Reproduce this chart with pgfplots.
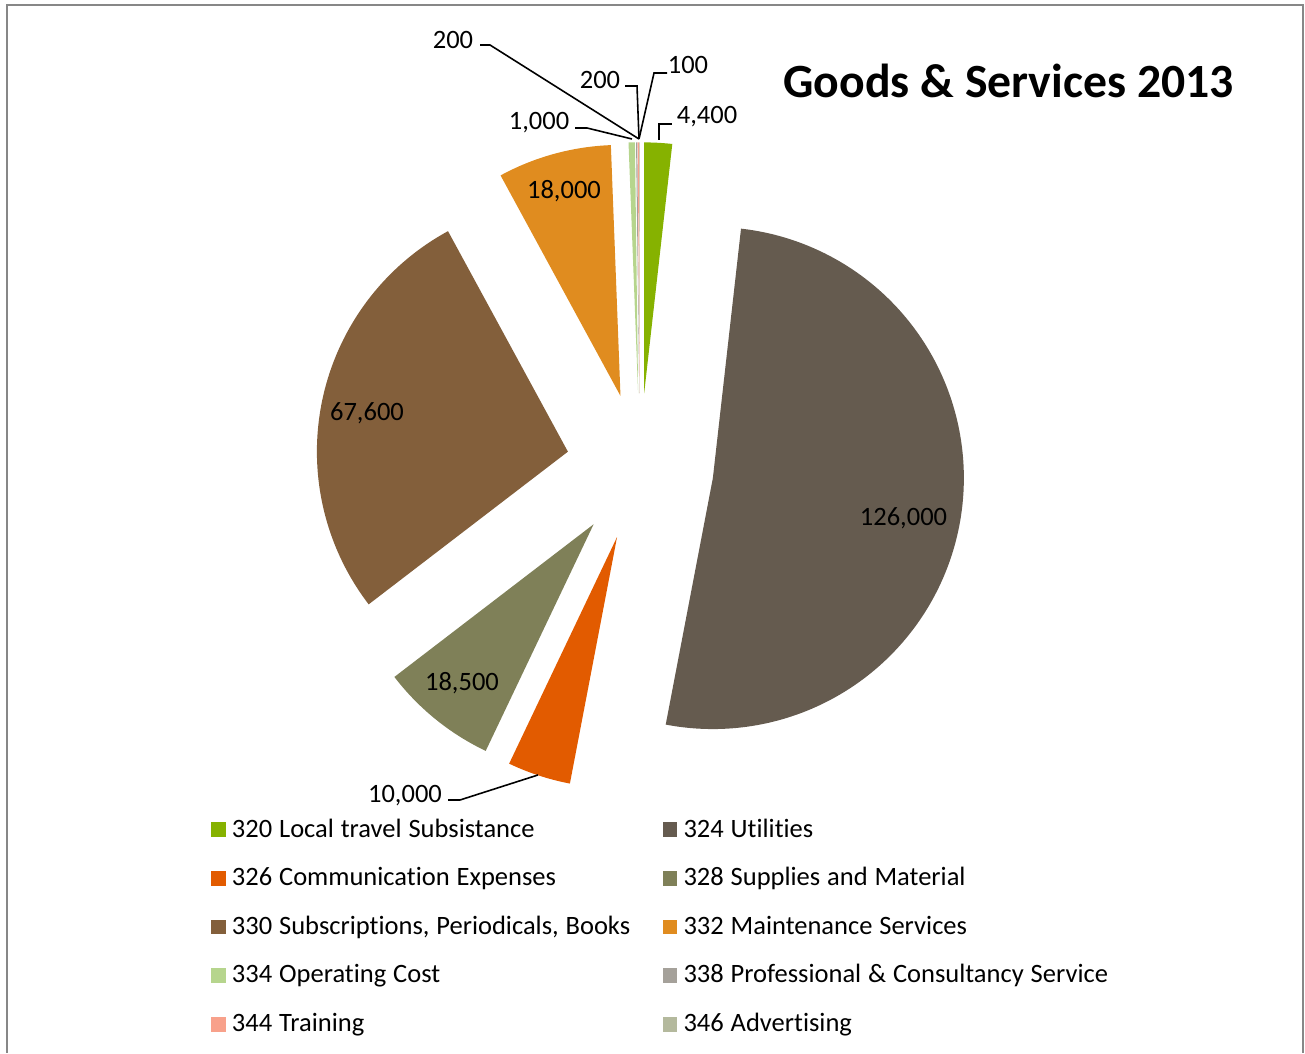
\documentclass[border=0pt]{standalone}
\usepackage{fontspec}
\setmainfont{Carlito}[Ligatures={NoCommon}]
\newfontfamily\legendfont{Carlito}[Ligatures={NoCommon}, WordSpace=1.15]
\usepackage{pgfplots}
\pgfplotsset{compat=1.18}
\usepackage{pgfplotstable}

\definecolor{sc0}{HTML}{86B200}
\definecolor{sc1}{HTML}{655B4F}
\definecolor{sc2}{HTML}{E25B00}
\definecolor{sc3}{HTML}{7F8058}
\definecolor{sc4}{HTML}{835F3B}
\definecolor{sc5}{HTML}{E08C1F}
\definecolor{sc6}{HTML}{B6D58D}
\definecolor{sc7}{HTML}{A5A19A}
\definecolor{sc8}{HTML}{F8A18B}
\definecolor{sc9}{HTML}{B4B99D}
\definecolor{framegray}{HTML}{878787}

\pgfplotstableread{
code value
320 4400
324 126000
326 10000
328 18500
330 67600
332 18000
334 1000
338 200
344 200
346 100
}\datatable

% geometry in pixel units of the reference (y up)
\def\CX{640}\def\CY{586}\def\R{251}\def\D{73.7}

\newcount\arcstep
\newcommand\buildslice[2]{%
  \edef\midang{\fpeval{(#1+#2)/2}}%
  \edef\ox{\fpeval{\CX+\D*sind(\midang)}}%
  \edef\oy{\fpeval{\CY+\D*cosd(\midang)}}%
  \edef\nseg{\fpeval{max(2,ceil(#2-#1))}}%
  \edef\slicecoords{(\ox,\oy)}%
  \arcstep=0
  \loop
    \edef\tang{\fpeval{#1+(#2-#1)*\the\arcstep/\nseg}}%
    \edef\slicecoords{\slicecoords (\fpeval{\ox+\R*sind(\tang)},\fpeval{\oy+\R*cosd(\tang)})}%
  \ifnum\arcstep<\nseg\relax \advance\arcstep by 1 \repeat
}

\begin{document}
\pgfplotstablegetrowsof{\datatable}%
\edef\nrows{\pgfplotsretval}%
\edef\lastrow{\the\numexpr\nrows-1\relax}%
\def\total{0}%
\pgfplotsforeachungrouped \i in {0,...,\lastrow}{%
  \pgfplotstablegetelem{\i}{value}\of\datatable
  \edef\total{\fpeval{\total+\pgfplotsretval}}}%
\begin{tikzpicture}
\begin{axis}[
  width=492.46pt, height=397.36pt, scale only axis,
  xmin=0, xmax=1305, ymin=0, ymax=1053,
  hide axis, clip=false,
  legend columns=2,
  legend image code/.code={\fill[#1] (0pt,0pt) rectangle (5.5pt,5.5pt);},
  legend style={at={(0.1617,0.2227)}, anchor=north west, draw=none, fill=none,
    inner sep=0pt, outer sep=0pt,
    font=\legendfont\fontsize{10}{12}\selectfont,
    row sep=9.35pt,
    cells={anchor=base west},
    nodes={inner sep=0pt, text height=7pt, text depth=2pt,
           font=\legendfont\fontsize{10}{12}\selectfont},
    /tikz/every odd column/.append style={column sep=2.4pt},
    /tikz/every even column/.append style={column sep=12.2pt}},
]
\path (axis cs:0,0) rectangle (axis cs:1305,1053);
\def\cum{0}%
\pgfplotsforeachungrouped \i in {0,...,\lastrow}{%
  \pgfplotstablegetelem{\i}{value}\of\datatable
  \edef\startang{\cum}%
  \edef\cum{\fpeval{\cum+\pgfplotsretval*360/\total}}%
  \buildslice{\startang}{\cum}%
  \edef\doplot{\noexpand\addplot[fill=sc\i, draw=none] coordinates {\slicecoords};}%
  \doplot
}
\legend{{320 Local travel Subsistance},{324 Utilities},{326 Communication Expenses},{328 Supplies and Material},{330 Subscriptions, Periodicals, Books},{332 Maintenance Services},{334 Operating Cost},{338 Professional \& Consultancy Service},{344 Training},{346 Advertising}}

% frame
\draw[framegray, line width=0.75pt] (axis cs:7,0) -- (axis cs:7,1048) -- (axis cs:1302.5,1048) -- (axis cs:1302.5,0);

% title
\node[anchor=base west, inner sep=0pt, font=\fontsize{18}{22}\selectfont\bfseries] at (axis cs:783,955) {Goods \& Services 2013};

% data labels
\begin{scope}[every node/.style={anchor=base, inner sep=0pt, font=\fontsize{10}{12}\selectfont}]
\node at (axis cs:903.5,527) {126,000};
\node at (axis cs:367,632) {67,600};
\node at (axis cs:462,362.5) {18,500};
\node at (axis cs:564,854.5) {18,000};
\node at (axis cs:405,250.5) {10,000};
\node at (axis cs:707,929) {4,400};
\node at (axis cs:539,923.5) {1,000};
\node at (axis cs:453,1004.5) {200};
\node at (axis cs:600,964.5) {200};
\node at (axis cs:688,979.5) {100};
\end{scope}

% leader lines
\begin{scope}[line width=0.6pt, black]
\draw (axis cs:448,253) -- (axis cs:460,253) -- (axis cs:538,278);
\draw (axis cs:659,913) -- (axis cs:659,929) -- (axis cs:672,929);
\draw (axis cs:575,925) -- (axis cs:587,925) -- (axis cs:632,914);
\draw (axis cs:480,1008) -- (axis cs:490,1008) -- (axis cs:639,914);
\draw (axis cs:625,967) -- (axis cs:637,967) -- (axis cs:639,914);
\draw (axis cs:667,980) -- (axis cs:654,980) -- (axis cs:639,914);
\end{scope}
\end{axis}
\end{tikzpicture}
\end{document}
